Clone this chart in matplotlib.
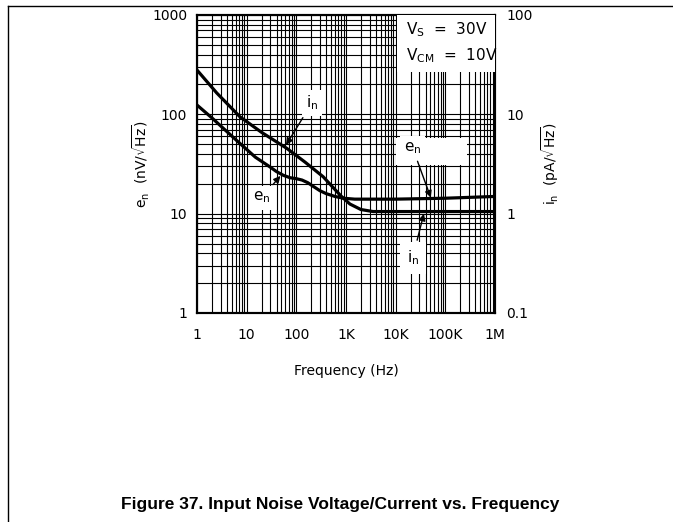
import matplotlib.pyplot as plt
from matplotlib.lines import Line2D
from matplotlib.patches import Rectangle
from matplotlib.ticker import NullLocator

# e_n curve (nV/rtHz, left axis)
en_freq = [1, 2, 4, 7.3, 15, 29, 40, 55, 75, 100, 130, 170, 220, 300, 400, 600, 880,
           1500, 3000, 10000, 100000, 1000000]
en_vals = [124, 92, 67, 51, 37, 29.7, 26.5, 24.3, 23, 22.5, 21.8, 20.5, 18.8, 17, 15.9, 14.9, 14.3,
           14.0, 14.0, 14.0, 14.3, 14.9]

# i_n curve (pA/rtHz, right axis)
in_freq = [1, 2.5, 7.3, 20, 64, 150, 348, 600, 800, 1200, 2000, 3500, 10000, 100000, 1000000]
in_vals = [27.9, 16.4, 9.46, 6.58, 4.55, 3.3, 2.35, 1.75, 1.5, 1.25, 1.1, 1.05, 1.05, 1.05, 1.05]

x_ticks = [1, 10, 100, 1e3, 1e4, 1e5, 1e6]
x_labels = ['1', '10', '100', '1K', '10K', '100K', '1M']
left_ticks = [1, 10, 100, 1000]
left_labels = ['1', '10', '100', '1000']
right_ticks = [0.1, 1, 10, 100]
right_labels = ['0.1', '1', '10', '100']

fig = plt.figure(figsize=(6.73, 5.22), dpi=100)
ax = fig.add_axes([0.2927, 0.4004, 0.4428, 0.5709])
ax.set_xscale('log')
ax.set_yscale('log')
ax.set_xlim(1, 1e6)
ax.set_ylim(1, 1000)
ax.grid(True, which='both', color='black', linewidth=0.8)
ax.set_xticks(x_ticks, x_labels)
ax.set_yticks(left_ticks, left_labels)
ax.tick_params(which='both', length=0, labelsize=10)
ax.tick_params(axis='x', pad=11)
ax.tick_params(axis='y', pad=7)
for s in ax.spines.values():
    s.set_linewidth(1.5)
ax.plot(en_freq, en_vals, color='black', linewidth=2.3, zorder=3)
ax.set_xlabel('Frequency (Hz)', fontsize=10, labelpad=16)
ax.set_ylabel(r'$\mathregular{e_n}$  (nV/$\sqrt{\mathregular{Hz}}$)', fontsize=10, labelpad=0)

ax2 = ax.twinx()
ax2.set_yscale('log')
ax2.set_ylim(0.1, 100)
ax2.set_yticks(right_ticks, right_labels)
ax2.yaxis.set_minor_locator(NullLocator())
ax2.tick_params(which='both', length=0, labelsize=10, pad=8)
for s in ax2.spines.values():
    s.set_linewidth(1.5)
ax2.plot(in_freq, in_vals, color='black', linewidth=2.3, zorder=3)
ax2.set_ylabel(r'$\mathregular{i_n}$  (pA/$\sqrt{\mathregular{Hz}}$)', fontsize=10, labelpad=5, rotation=90)

# condition box
ax2.add_patch(Rectangle((0.671, 0.809), 0.329, 0.191, transform=ax2.transAxes,
                        facecolor='white', edgecolor='none', zorder=4))
ax2.text(0.70, 0.95, r'V$_\mathregular{S}$  =  30V', transform=ax2.transAxes,
         fontsize=11, va='center', ha='left', zorder=5)
ax2.text(0.70, 0.865, r'V$_\mathregular{CM}$  =  10V', transform=ax2.transAxes,
         fontsize=11, va='center', ha='left', zorder=5)

# label knockout behind right e_n
ax2.add_patch(Rectangle((10100, 3.08), 261000, 2.69, facecolor='white', edgecolor='none', zorder=4))

arrow = dict(arrowstyle='-|>', color='black', lw=1, mutation_scale=10, shrinkA=1, shrinkB=0)
lab = dict(fontsize=11, ha='center', va='center', zorder=5)
box = dict(facecolor='white', edgecolor='none', pad=3)
ax2.annotate(r'$\mathregular{i_n}$', xy=(62, 4.9), xytext=(206, 13), arrowprops=arrow, bbox=box, **lab)
ax2.annotate(r'$\mathregular{e_n}$', xy=(48, 2.4), xytext=(20, 1.45), arrowprops=arrow, bbox=box, **lab)
ax2.annotate(r'$\mathregular{e_n}$', xy=(51000, 1.45), xytext=(22000, 4.58), arrowprops=arrow, bbox=box, **lab)
ax2.annotate(r'$\mathregular{i_n}$', xy=(37000, 1.0), xytext=(22000, 0.36), arrowprops=arrow,
             bbox=dict(facecolor='white', edgecolor='none', pad=5), **lab)

# page frame
fig.add_artist(Line2D([8 / 673, 1], [1 - 6 / 522, 1 - 6 / 522], color='black', linewidth=1))
fig.add_artist(Line2D([8 / 673, 8 / 673], [0, 1 - 6 / 522], color='black', linewidth=1))

fig.text(0.505, 1 - 505 / 522, 'Figure 37. Input Noise Voltage/Current vs. Frequency',
         fontsize=12.5, fontweight='bold', family='Liberation Sans', ha='center', va='center')

fig.savefig('out.png', dpi=100)
